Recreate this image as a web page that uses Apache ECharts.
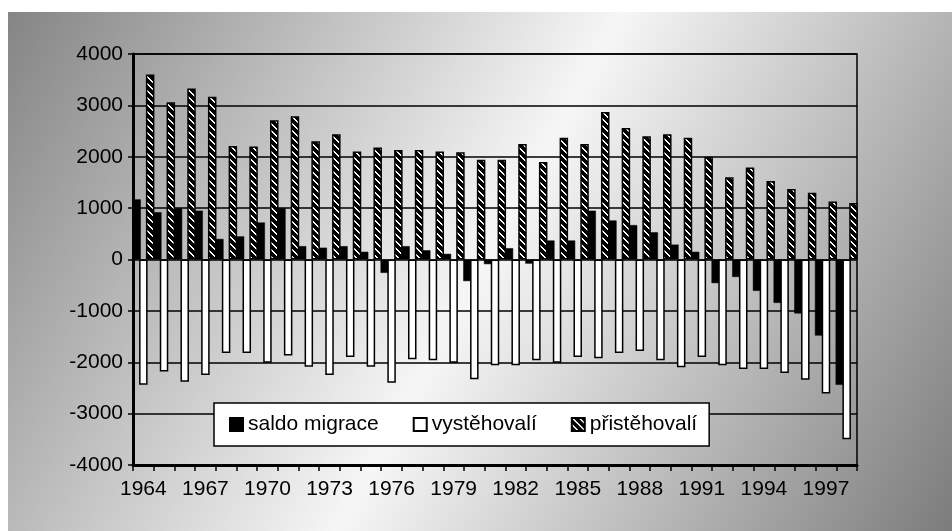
<!DOCTYPE html>
<html>
<head>
<meta charset="utf-8">
<script src="https://cdn.jsdelivr.net/npm/echarts@6/dist/echarts.min.js"></script>
<style>
html,body{margin:0;padding:0;background:#fff;}
#c{width:952px;height:531px;}
</style>
</head>
<body>
<div id="c"></div>
<script>
const years = ['1964','1965','1966','1967','1968','1969','1970','1971','1972','1973','1974','1975','1976','1977','1978','1979','1980','1981','1982','1983','1984','1985','1986','1987','1988','1989','1990','1991','1992','1993','1994','1995','1996','1997','1998'];
const saldoMigrace = [1170,920,1000,950,400,450,720,1000,260,230,260,150,-260,260,180,110,-420,-90,220,-80,370,370,950,760,670,530,290,150,-460,-340,-610,-845,-1050,-1480,-2440];
const vystehovali = [-2440,-2180,-2380,-2250,-1820,-1820,-2010,-1870,-2090,-2250,-1900,-2090,-2400,-1940,-1960,-2010,-2330,-2060,-2060,-1960,-2010,-1900,-1920,-1820,-1780,-1960,-2095,-1900,-2060,-2130,-2130,-2210,-2340,-2610,-3500];
const pristehovali = [3600,3060,3330,3170,2210,2200,2710,2790,2300,2440,2100,2180,2130,2130,2100,2090,1940,1940,2250,1900,2370,2250,2870,2560,2400,2440,2370,2000,1600,1790,1530,1370,1300,1130,1100];
const yTicks = {min:-4000, max:4000, step:1000};
const seriesNames = ['saldo migrace','vystěhovalí','přistěhovalí'];

// hatch pattern: black with white "\" stripes
const pc = document.createElement('canvas');
const P = 7;
pc.width = P; pc.height = P;
const pctx = pc.getContext('2d');
const img = pctx.createImageData(P, P);
for (let y = 0; y < P; y++) {
  for (let x = 0; x < P; x++) {
    const white = ((x - y + P) % P) < 2;
    const i = (y * P + x) * 4;
    const v = white ? 255 : 0;
    img.data[i] = v; img.data[i+1] = v; img.data[i+2] = v; img.data[i+3] = 255;
  }
}
pctx.putImageData(img, 0, 0);

const FONT = 'Liberation Sans, Arial, sans-serif';
const chart = echarts.init(document.getElementById('c'), null, {renderer:'canvas'});
const BW = 8.5, GAP = '-20%';
chart.setOption({
  animation: false,
  backgroundColor: '#fff',
  graphic: [{
    type: 'rect', z: -100, silent: true,
    shape: {x: 8, y: 12, width: 944, height: 519},
    style: {
      fill: new echarts.graphic.LinearGradient(0, 0, 1, 1, [
        {offset: 0, color: '#858585'},
        {offset: 0.5, color: '#f6f6f6'},
        {offset: 1, color: '#7c7c7c'}
      ])
    }
  }],
  grid: {left: 133, right: 95, top: 54, bottom: 66, show: true, borderColor: '#000', borderWidth: 1.5, backgroundColor: 'transparent'},
  legend: {
    data: seriesNames,
    left: 214, top: 403,
    padding: [11, 12, 11, 15],
    itemGap: 34, itemWidth: 13, itemHeight: 13,
    icon: 'rect',
    selectedMode: false,
    backgroundColor: '#fff', borderColor: '#000', borderWidth: 1.5,
    textStyle: {fontSize: 21, color: '#000', fontFamily: FONT}
  },
  xAxis: {
    type: 'category', data: years, boundaryGap: true,
    axisLine: {onZero: false, lineStyle: {color: '#000', width: 3}},
    axisTick: {show: true, interval: 0, length: 6, lineStyle: {color: '#000', width: 1.5}},
    axisLabel: {interval: 2, fontSize: 21, color: '#000', margin: 14, fontFamily: FONT},
    splitLine: {show: false}
  },
  yAxis: {
    type: 'value', min: yTicks.min, max: yTicks.max, interval: yTicks.step,
    axisLine: {show: true, lineStyle: {color: '#000', width: 3}},
    axisTick: {show: true, length: 5, lineStyle: {color: '#000', width: 1.5}},
    axisLabel: {fontSize: 21, color: '#000', margin: 10, fontFamily: FONT, formatter: v => String(v)},
    splitLine: {show: true, lineStyle: {color: '#000', width: 1.5}}
  },
  series: [
    {name: seriesNames[0], type: 'bar', data: saldoMigrace, barWidth: BW, barGap: GAP,
     itemStyle: {color: '#000', borderColor: '#000', borderWidth: 0.5}},
    {name: seriesNames[1], type: 'bar', data: vystehovali, barWidth: BW, barGap: GAP,
     itemStyle: {color: '#fff', borderColor: '#000', borderWidth: 1.5}},
    {name: seriesNames[2], type: 'bar', data: pristehovali, barWidth: BW, barGap: GAP,
     itemStyle: {color: {image: pc, repeat: 'repeat'}, borderColor: '#000', borderWidth: 1.5}}
  ]
});
</script>
</body>
</html>
